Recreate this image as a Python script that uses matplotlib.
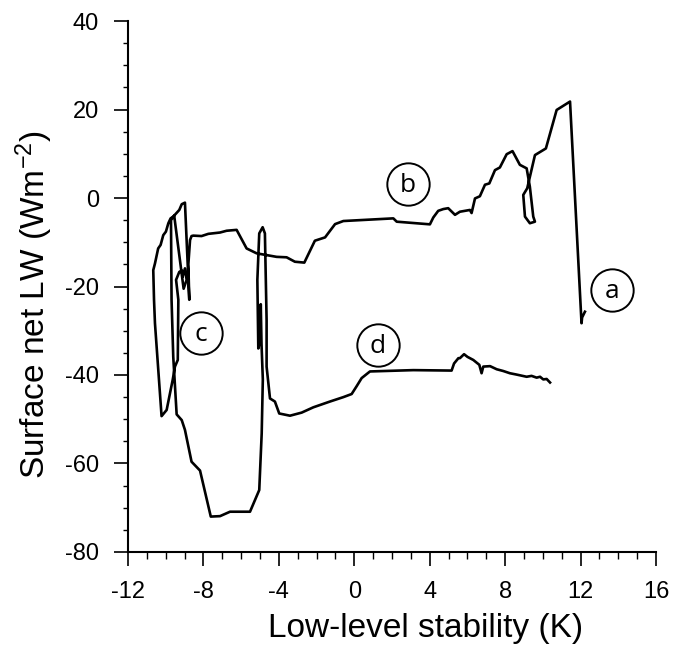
import matplotlib
matplotlib.use("Agg")
import matplotlib.pyplot as plt
from matplotlib.ticker import MultipleLocator

plt.rcParams['font.family'] = ['Liberation Sans', 'DejaVu Sans']
plt.rcParams['axes.unicode_minus'] = False
plt.rcParams['mathtext.fontset'] = 'custom'
plt.rcParams['mathtext.rm'] = 'Liberation Sans'
plt.rcParams['mathtext.default'] = 'regular'

# Trajectory (low-level stability K, surface net LW W m-2)
stability = [
    12.23, 12.08, 12.05, 11.44, 10.73, 10.16, 9.58, 9.17, 8.96, 9.05, 9.31, 9.58, 9.49, 9.31,
    9.14, 8.78, 8.39, 8.08, 7.72, 7.46, 7.16, 6.93, 6.66, 6.40, 6.22, 6.13, 5.87, 5.60,
    5.34, 4.98, 4.72, 4.45, 4.19, 4.01, 2.25, 2.07, -0.58, -1.02, -1.55, -2.09, -2.65,
    -3.15, -3.59, -4.12, -4.65, -5.18, -5.71, -6.24, -6.77, -7.12, -7.74, -8.10, -8.54,
    -8.63, -8.71, -8.80, -8.75, -8.98, -9.15, -9.28, -9.45, -9.60, -9.74, -9.86, -9.99,
    -10.13, -10.27, -10.40, -10.57, -10.66, -10.62, -10.57, -10.22, -9.95, -9.63, -9.51,
    -9.36, -9.33, -9.45, -9.28, -9.15, -9.10, -8.98, -8.89, -9.05, -9.55, -9.72, -9.69,
    -9.60, -9.42, -9.15, -8.98, -8.63, -8.18, -7.61, -7.12, -6.59, -5.53, -5.04, -4.91,
    -4.85, -4.92, -4.96, -4.98, -5.09, -5.14, -5.04, -4.86, -4.74, -4.65, -4.65, -4.47,
    -4.21, -3.98, -3.41, -2.79, -2.17, -1.29, -0.58, -0.14, 0.13, 0.39, 0.83, 3.13, 5.16,
    5.29, 5.52, 5.60, 5.82, 6.00, 6.31, 6.63, 6.75, 6.84, 7.20, 7.55, 7.90, 8.25, 8.60,
    9.14, 9.40, 9.67, 9.85, 10.02, 10.20, 10.38,
]
net_lw = [
    -25.7, -27.0, -28.3, 21.8, 19.9, 11.2, 9.7, 2.2, 0.7, -4.2, -5.7, -5.35, -4.2, 2.55,
    6.7, 7.5, 10.6, 9.9, 6.9, 6.3, 3.3, 3.0, 0.4, -0.1, -3.4, -2.7, -2.9, -3.1,
    -3.8, -2.3, -2.5, -2.9, -4.4, -5.95, -5.35, -4.6, -5.2, -5.9, -8.9, -9.65, -14.6,
    -14.4, -13.4, -13.3, -12.9, -12.5, -11.4, -7.2, -7.4, -7.8, -8.1, -8.6, -8.5,
    -8.6, -9.5, -15.0, -23.0, -1.05, -1.4, -2.7, -3.5, -4.2, -4.6, -5.7, -7.6,
    -8.4, -10.6, -11.4, -14.8, -16.3, -23.0, -28.3, -49.3, -47.9, -41.1, -38.1,
    -36.6, -23.0, -18.5, -16.7, -16.4, -17.8, -15.9, -18.5, -20.5, -4.0, -5.0, -23.0,
    -35.9, -48.9, -50.2, -52.4, -59.6, -61.6, -72.0, -71.9, -70.9, -70.9, -66.0, -53.2,
    -41.0, -33.0, -24.0, -32.0, -34.0, -18.5, -8.0, -6.6, -8.0, -27.6, -38.1, -45.3,
    -46.0, -48.7, -49.2, -48.5, -47.3, -46.0, -45.0, -44.3, -42.5, -40.7, -39.2, -38.9, -39.0,
    -37.4, -36.2, -36.2, -35.3, -35.9, -36.6, -37.7, -39.6, -38.1, -38.0, -38.7, -39.1, -39.6, -39.9,
    -40.4, -40.2, -40.6, -40.4, -41.0, -40.9, -41.7,
]

label_text = ['a', 'b', 'c', 'd']
label_x = [13.66, 2.85, -8.13, 1.26]
label_y = [-20.8, 3.2, -30.5, -33.2]

fig = plt.figure(figsize=(6.83, 6.53), dpi=100)
ax = fig.add_axes([0.1874, 0.1547, 0.9605 - 0.1874, 0.9678 - 0.1547])

ax.plot(stability, net_lw, color='black', lw=1.9, solid_joinstyle='round')

for t, x, y in zip(label_text, label_x, label_y):
    ax.plot([x], [y], marker='o', ms=30.5, mfc='white', mec='black', mew=1.4, zorder=3)
    ax.text(x, y - 0.4, t, ha='center', va='center', fontsize=19,
            family=['Open Sans', 'DejaVu Sans'], zorder=4)

ax.set_xlim(-12, 16)
ax.set_ylim(-80, 40)
ax.xaxis.set_major_locator(MultipleLocator(4))
ax.xaxis.set_minor_locator(MultipleLocator(1))
ax.yaxis.set_major_locator(MultipleLocator(20))
ax.yaxis.set_minor_locator(MultipleLocator(5))

for s in ['top', 'right']:
    ax.spines[s].set_visible(False)
for s in ['left', 'bottom']:
    ax.spines[s].set_linewidth(1.5)

ax.tick_params(axis='both', which='major', direction='out', length=10, width=1.2, labelsize=17, pad=11)
ax.tick_params(axis='x', which='minor', direction='out', length=5, width=1.0)
ax.tick_params(axis='y', which='minor', direction='out', length=3.5, width=1.0)

ax.set_xlabel('Low-level stability (K)', fontsize=24)
ax.set_ylabel('Surface net LW (Wm$^{-2}$)', fontsize=24)
ax.xaxis.set_label_coords(0.564, -0.114)
ax.yaxis.set_label_coords(-0.138, 0.465)

fig.savefig('out.png', dpi=100)
